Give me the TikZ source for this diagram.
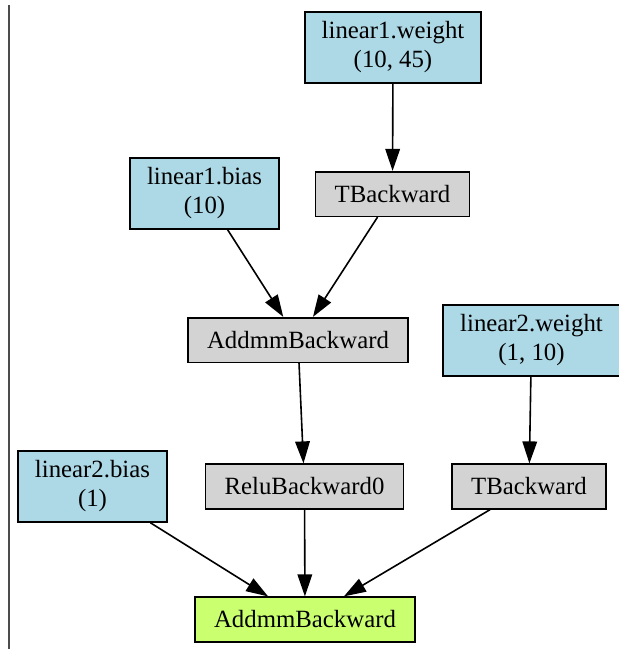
\documentclass[tikz,border=0pt]{standalone}
\usepackage{fontspec}
\setmainfont{Liberation Serif}
\usetikzlibrary{arrows.meta}
\definecolor{Dblue}{RGB}{173,216,230}
\definecolor{Dgray}{RGB}{211,211,211}
\definecolor{Dgreen}{RGB}{202,255,112}
\tikzset{%
    Dbox/.style={draw=black, line width=0.8pt, fill=#1, align=center,
        font=\fontsize{12.4}{14.5}\selectfont, inner ysep=1pt},
    Dbox/.default={Dgray},
    Dparam/.style={Dbox=Dblue, minimum height=35.5pt, inner xsep=8.5pt},
    Dop/.style={Dbox=Dgray, minimum height=22.3pt, inner xsep=9.5pt},
    Droot/.style={Dop, fill=Dgreen},
    Dedge/.style={line width=0.8pt, -{Triangle[length=11pt,width=7.3pt]}},
    Dframe/.style={line width=0.6pt, draw=black!70}
}

\begin{document}
\begin{tikzpicture}[x=0.5pt,y=-0.5pt]
    \useasboundingbox (0,0) rectangle (619,649);
    \draw [Dframe] (9,5) -- (9,649);

    % leaf tensors (parameters)
    \node [Dparam] (Nw1) at (393,47.5)  {linear1.weight\\(10, 45)};
    \node [Dparam] (Nb1) at (204.5,193.5) {linear1.bias\\(10)};
    \node [Dparam] (Nw2) at (531.5,340.5) {linear2.weight\\(1, 10)};
    \node [Dparam] (Nb2) at (92.5,486.5)  {linear2.bias\\(1)};

    % backward functions
    \node [Dop] (Nt1)  at (392.5,194)   {TBackward};
    \node [Dop] (Nmm1) at (298,340)     {AddmmBackward};
    \node [Dop] (Nrelu) at (304.5,486.5) {ReluBackward0};
    \node [Dop] (Nt2)  at (529,486.5)   {TBackward};
    \node [Droot] (Nmm2) at (305,619.5) {AddmmBackward};

    % edges of the graph
    \foreach \cA/\cB in
            {Nw1/Nt1,   Nb1/Nmm1,  Nt1/Nmm1,
             Nmm1/Nrelu, Nw2/Nt2,
             Nb2/Nmm2,  Nrelu/Nmm2, Nt2/Nmm2}
        \draw [Dedge] (\cA) -- (\cB);

\end{tikzpicture}
\end{document}
